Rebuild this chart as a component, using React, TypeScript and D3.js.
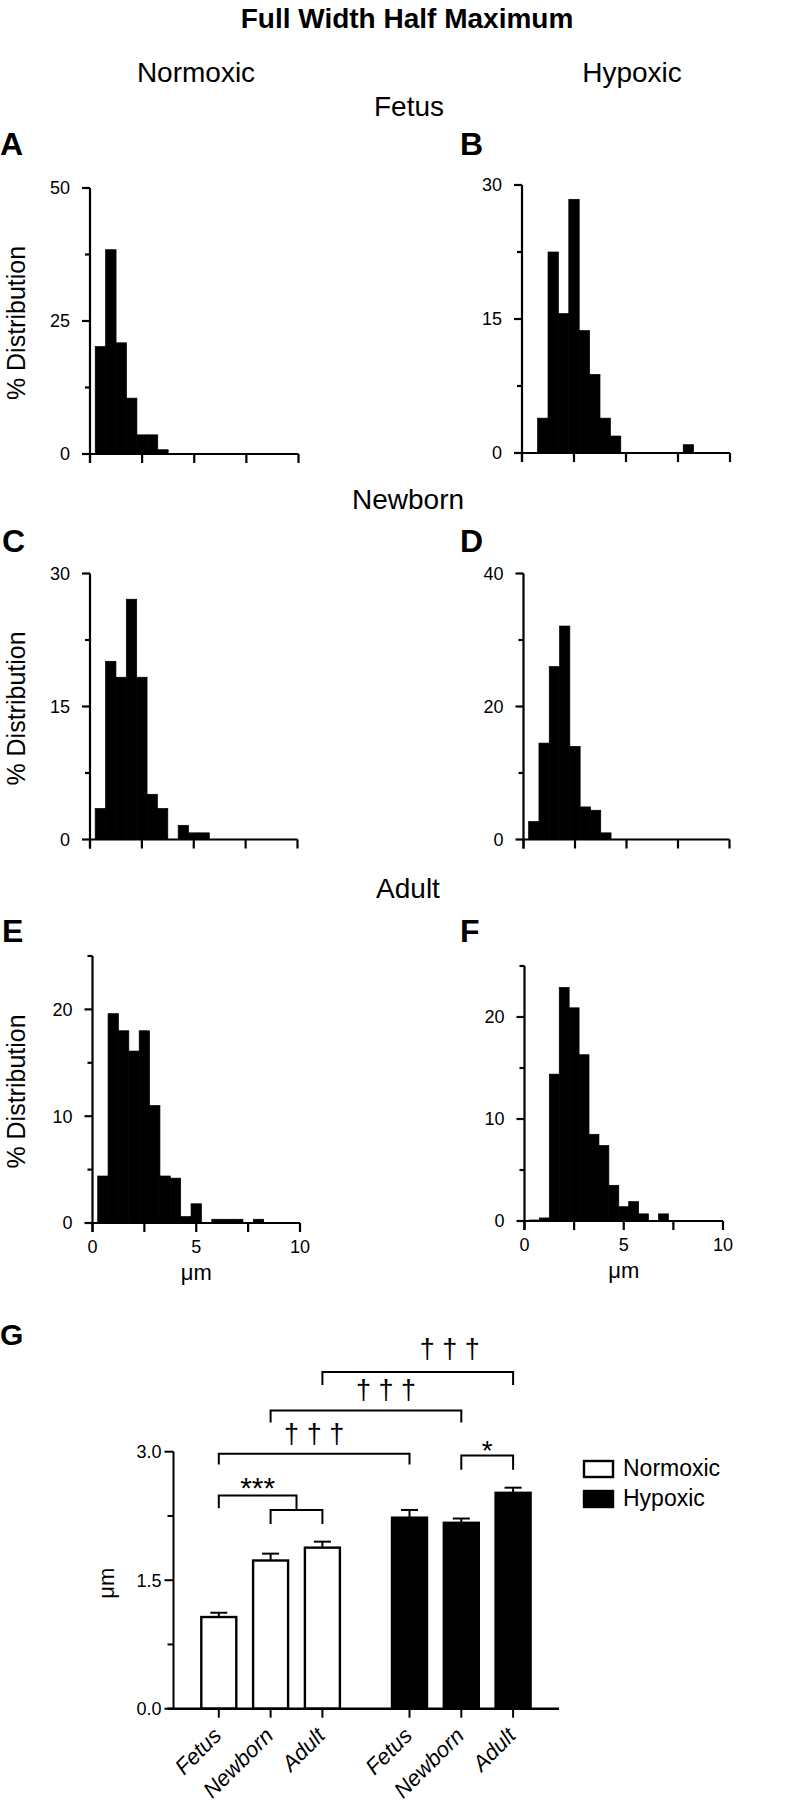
import React from 'react';
import * as d3 from 'd3';

// ---------- Histogram data (% distribution per 0.5 µm bin) ----------
const binCenters = [0.5, 1, 1.5, 2, 2.5, 3, 3.5, 4, 4.5, 5, 5.5, 6, 6.5, 7, 7.5, 8];
const fetusNormoxic = [20.2, 38.4, 20.9, 10.5, 3.6, 3.6, 0.8];
const fetusHypoxic = [0, 3.9, 22.5, 15.6, 28.4, 13.7, 8.8, 3.9, 1.9, 0, 0, 0, 0, 0, 0, 0.93];
const newbornNormoxic = [3.5, 20.1, 18.3, 27.1, 18.3, 5.1, 3.5, 0, 1.6, 0.75, 0.75];
const newbornHypoxic = [2.7, 14.5, 26.0, 32.1, 14.0, 4.9, 4.4, 1.0];
const adultNormoxic = [4.4, 19.6, 18.0, 16.1, 18.0, 11.0, 4.4, 4.2, 0.6, 1.8, 0, 0.35, 0.35, 0.35, 0, 0.35];
const adultHypoxic = [0.1, 0.3, 14.4, 22.9, 20.9, 16.3, 8.5, 7.4, 3.5, 1.4, 1.9, 0.7, 0, 0.7];

const xTicks = [0, 2.5, 5, 7.5, 10];
const xTickLabels = [0, 5, 10];

// ---------- Bar chart data ----------
const groups = ['Normoxic', 'Hypoxic'];
const ages = ['Fetus', 'Newborn', 'Adult'];
const normoxicMeans = [1.07, 1.73, 1.88];
const normoxicSEM = [0.05, 0.08, 0.07];
const hypoxicMeans = [2.23, 2.17, 2.52];
const hypoxicSEM = [0.09, 0.05, 0.06];
const barYTicks = [0, 1.5, 3];
const barYMinor = [0.75, 2.25];

const FONT = '"Liberation Sans", Arial, Helvetica, sans-serif';

type Panel = {
  letter: string;
  values: number[];
  yMax: number;
  yLabels: number[];
  yMinor: number[];
  left: number;
  right: number;
  top: number;
  bottom: number;
  showYTitle: boolean;
  showXLabels: boolean;
  letterX: number;
  letterY: number;
};

const panels: Panel[] = [
  { letter: 'A', values: fetusNormoxic, yMax: 50, yLabels: [0, 25, 50], yMinor: [12.5, 37.5], left: 90, right: 298.5, top: 188, bottom: 454, showYTitle: true, showXLabels: false, letterX: 0, letterY: 155 },
  { letter: 'B', values: fetusHypoxic, yMax: 30, yLabels: [0, 15, 30], yMinor: [7.5, 22.5], left: 522, right: 730, top: 185, bottom: 453, showYTitle: false, showXLabels: false, letterX: 460, letterY: 155 },
  { letter: 'C', values: newbornNormoxic, yMax: 30, yLabels: [0, 15, 30], yMinor: [7.5, 22.5], left: 90, right: 297.5, top: 573.5, bottom: 839.5, showYTitle: true, showXLabels: false, letterX: 2, letterY: 552 },
  { letter: 'D', values: newbornHypoxic, yMax: 40, yLabels: [0, 20, 40], yMinor: [10, 30], left: 523.5, right: 729.5, top: 573.5, bottom: 839.5, showYTitle: false, showXLabels: false, letterX: 460, letterY: 552 },
  { letter: 'E', values: adultNormoxic, yMax: 25, yLabels: [0, 10, 20], yMinor: [5, 15, 25], left: 92.5, right: 300, top: 956, bottom: 1223, showYTitle: true, showXLabels: true, letterX: 2, letterY: 942 },
  { letter: 'F', values: adultHypoxic, yMax: 25, yLabels: [0, 10, 20], yMinor: [5, 15, 25], left: 524.5, right: 723, top: 966, bottom: 1221, showYTitle: false, showXLabels: true, letterX: 460, letterY: 942 },
];

const SW = 2.2;

function Histogram({ p }: { p: Panel }) {
  const x = d3.scaleLinear().domain([0, 10]).range([p.left, p.right]);
  const y = d3.scaleLinear().domain([0, p.yMax]).range([p.bottom, p.top]);
  return (
    <g>
      <text x={p.letterX} y={p.letterY} fontSize={32} fontWeight="bold" fontFamily={FONT}>{p.letter}</text>
      {p.values.map((v, i) =>
        v > 0 ? (
          <rect key={i} x={x(binCenters[i] - 0.25)} y={y(v)} width={x(binCenters[i] + 0.25) - x(binCenters[i] - 0.25)} height={y(0) - y(v)} fill="#000" stroke="#000" strokeWidth={0.7} />
        ) : null
      )}
      {/* y axis */}
      <line x1={p.left} x2={p.left} y1={p.top} y2={p.bottom + 9} stroke="#000" strokeWidth={SW} />
      {p.yLabels.map((t) => (
        <g key={'yl' + t}>
          <line x1={p.left - 8} x2={p.left} y1={y(t)} y2={y(t)} stroke="#000" strokeWidth={SW} />
          <text x={p.left - 20} y={y(t)} dy="0.36em" textAnchor="end" fontSize={18} fontFamily={FONT}>{t}</text>
        </g>
      ))}
      {p.yMinor.map((t) => (
        <line key={'ym' + t} x1={p.left - 5} x2={p.left} y1={y(t)} y2={y(t)} stroke="#000" strokeWidth={SW} />
      ))}
      {/* x axis */}
      <line x1={p.left} x2={p.right} y1={p.bottom} y2={p.bottom} stroke="#000" strokeWidth={SW} />
      {xTicks.map((t) => (
        <line key={'xt' + t} x1={x(t)} x2={x(t)} y1={p.bottom} y2={p.bottom + 9} stroke="#000" strokeWidth={SW} />
      ))}
      {p.showXLabels &&
        xTickLabels.map((t) => (
          <text key={'xl' + t} x={x(t)} y={p.bottom + 30} textAnchor="middle" fontSize={18} fontFamily={FONT}>{t}</text>
        ))}
      {p.showXLabels && (
        <text x={x(5)} y={p.bottom + 57} textAnchor="middle" fontSize={22} fontFamily={FONT}>μm</text>
      )}
      {p.showYTitle && (
        <text transform={`translate(25,${(p.top + p.bottom) / 2 + 2}) rotate(-90)`} textAnchor="middle" fontSize={25} fontFamily={FONT}>% Distribution</text>
      )}
    </g>
  );
}

function BarChart() {
  const y = d3.scaleLinear().domain([0, 3]).range([1708.7, 1451.7]);
  const xGroup = d3.scalePoint<string>().domain(groups).range([270.6, 461.3]);
  const xAge = d3.scalePoint<string>().domain(ages).range([-51.8, 51.8]);
  const cx = (g: string, a: string) => (xGroup(g) as number) + (xAge(a) as number);
  const bw = 35;
  const rows = [
    ...ages.map((a, i) => ({ g: 'Normoxic', a, m: normoxicMeans[i], e: normoxicSEM[i] })),
    ...ages.map((a, i) => ({ g: 'Hypoxic', a, m: hypoxicMeans[i], e: hypoxicSEM[i] })),
  ];
  const axisLeft = 173.5;

  const bracket = (x1: number, x2: number, lvl: number, leg1: number, leg2: number, key: string) => (
    <path key={key} d={`M${x1},${y(leg1)}V${y(lvl)}H${x2}V${y(leg2)}`} fill="none" stroke="#000" strokeWidth={2} />
  );

  const nF = cx('Normoxic', 'Fetus');
  const nN = cx('Normoxic', 'Newborn');
  const nA = cx('Normoxic', 'Adult');
  const hF = cx('Hypoxic', 'Fetus');
  const hN = cx('Hypoxic', 'Newborn');
  const hA = cx('Hypoxic', 'Adult');
  const midNA = (nN + nA) / 2;

  return (
    <g fontFamily={FONT}>
      <text x={0} y={1345} fontSize={30} fontWeight="bold">G</text>
      {/* error bars */}
      {rows.map((r, i) => (
        <g key={'e' + i}>
          <line x1={cx(r.g, r.a)} x2={cx(r.g, r.a)} y1={y(r.m)} y2={y(r.m + r.e)} stroke="#000" strokeWidth={2} />
          <line x1={cx(r.g, r.a) - 8.5} x2={cx(r.g, r.a) + 8.5} y1={y(r.m + r.e)} y2={y(r.m + r.e)} stroke="#000" strokeWidth={2} />
        </g>
      ))}
      {rows.map((r, i) => (
        <rect key={'b' + i} x={cx(r.g, r.a) - bw / 2} y={y(r.m)} width={bw} height={y(0) - y(r.m)} fill={r.g === 'Normoxic' ? '#fff' : '#000'} stroke="#000" strokeWidth={2.4} />
      ))}
      {/* y axis */}
      <line x1={axisLeft} x2={axisLeft} y1={y(3)} y2={y(0)} stroke="#000" strokeWidth={2} />
      {barYTicks.map((t) => (
        <g key={'t' + t}>
          <line x1={axisLeft - 9} x2={axisLeft} y1={y(t)} y2={y(t)} stroke="#000" strokeWidth={2} />
          <text x={axisLeft - 12} y={y(t)} dy="0.36em" textAnchor="end" fontSize={18}>{t.toFixed(1)}</text>
        </g>
      ))}
      {barYMinor.map((t) => (
        <line key={'m' + t} x1={axisLeft - 6} x2={axisLeft} y1={y(t)} y2={y(t)} stroke="#000" strokeWidth={2} />
      ))}
      <text transform={`translate(114,${y(1.5) + 3}) rotate(-90)`} textAnchor="middle" fontSize={22}>μm</text>
      {/* x axis */}
      <line x1={axisLeft - 6} x2={559} y1={y(0)} y2={y(0)} stroke="#000" strokeWidth={2.4} />
      {rows.map((r, i) => (
        <g key={'x' + i}>
          <line x1={cx(r.g, r.a)} x2={cx(r.g, r.a)} y1={y(0)} y2={y(0) + 9} stroke="#000" strokeWidth={2} />
          <text transform={`translate(${cx(r.g, r.a) + 4},${1737}) rotate(-45)`} textAnchor="end" fontSize={22} fontStyle="italic">{r.a}</text>
        </g>
      ))}
      {/* significance brackets */}
      {bracket(nN, nA, 2.32, 2.156, 2.156, 'b1')}
      {bracket(nF, midNA, 2.49, 2.34, 2.32, 'b2')}
      <text x={(nF + midNA) / 2} y={y(2.49) + 3} textAnchor="middle" fontSize={30}>***</text>
      {bracket(nF, hF, 2.976, 2.85, 2.85, 'b3')}
      <text x={(nF + hF) / 2} y={y(2.976) - 11} textAnchor="middle" fontSize={27}>† † †</text>
      {bracket(nN, hN, 3.48, 3.34, 3.34, 'b4')}
      <text x={(nN + hN) / 2 + 20} y={y(3.48) - 12} textAnchor="middle" fontSize={27}>† † †</text>
      {bracket(nA, hA, 3.93, 3.78, 3.78, 'b5')}
      <text x={(nA + hA) / 2 + 32} y={y(3.93) - 14} textAnchor="middle" fontSize={27}>† † †</text>
      {bracket(hN, hA, 2.957, 2.79, 2.79, 'b6')}
      <text x={(hN + hA) / 2} y={y(2.957) + 5} textAnchor="middle" fontSize={28}>*</text>
      {/* legend */}
      {groups.map((g, i) => (
        <g key={'lg' + g}>
          <rect x={584} y={1461 + i * 30} width={29} height={16} fill={g === 'Normoxic' ? '#fff' : '#000'} stroke="#000" strokeWidth={2.4} />
          <text x={623} y={1476 + i * 29.5} fontSize={23}>{g}</text>
        </g>
      ))}
    </g>
  );
}

export default function App() {
  return (
    <svg width={793} height={1804} style={{ position: 'absolute', left: 0, top: 0, background: '#fff' }} fontFamily={FONT}>
      <rect width={793} height={1804} fill="#fff" />
      <text x={407} y={28} textAnchor="middle" fontSize={28} fontWeight="bold">Full Width Half Maximum</text>
      <text x={196} y={82} textAnchor="middle" fontSize={28}>Normoxic</text>
      <text x={632} y={82} textAnchor="middle" fontSize={28}>Hypoxic</text>
      <text x={409} y={116} textAnchor="middle" fontSize={28}>Fetus</text>
      <text x={408} y={509} textAnchor="middle" fontSize={28}>Newborn</text>
      <text x={408} y={898} textAnchor="middle" fontSize={28}>Adult</text>
      {panels.map((p) => (
        <Histogram key={p.letter} p={p} />
      ))}
      <BarChart />
    </svg>
  );
}
